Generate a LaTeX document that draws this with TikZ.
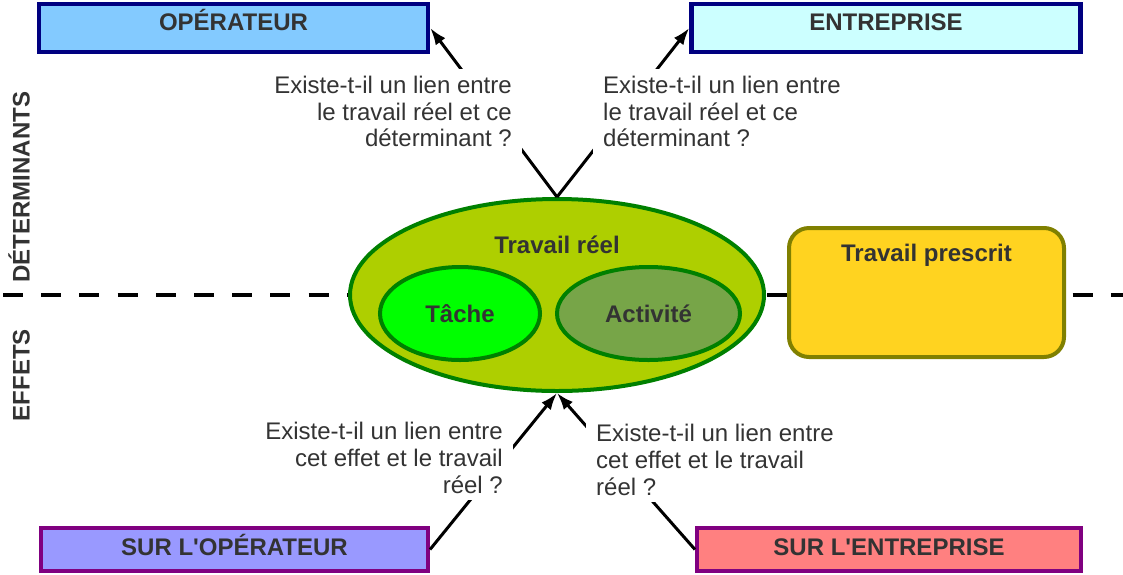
\documentclass[tikz,border=0pt]{standalone}
\usepackage{fontspec}
\setmainfont{Liberation Sans}[Ligatures=TeXOff]
\usetikzlibrary{arrows.meta,shapes.geometric}
\definecolor{txt}{HTML}{333333}
\definecolor{navyb}{HTML}{000080}
\definecolor{purpb}{HTML}{800080}
\definecolor{opfill}{HTML}{83CAFF}
\definecolor{entfill}{HTML}{CCFFFF}
\definecolor{sopfill}{HTML}{9999FF}
\definecolor{sentfill}{HTML}{FF8080}
\definecolor{dgreen}{HTML}{008000}
\definecolor{ygreen}{HTML}{AECF00}
\definecolor{tgreen}{HTML}{00FF00}
\definecolor{agreen}{HTML}{77A548}
\definecolor{gold}{HTML}{FFD320}
\definecolor{olive}{HTML}{808000}
\tikzset{
  bfont/.style={font=\fontsize{24}{28}\selectfont\bfseries, text=txt},
  topbox/.style={bfont, draw=navyb, line width=4.5pt, inner sep=0pt,
    minimum width=389pt, minimum height=48pt, text height=26.4pt, text depth=21.6pt},
  botbox/.style={bfont, draw=purpb, line width=4pt, inner sep=0pt,
    minimum height=43pt, text height=27.4pt, text depth=15.6pt},
  oval/.style={ellipse, draw=dgreen, line width=4pt, inner sep=0pt},
  ovaltext/.style={bfont, text height=17pt, text depth=0pt},
  prescbox/.style={bfont, draw=olive, fill=gold, line width=4pt, rounded corners=20pt,
    inner sep=0pt, minimum width=275pt, minimum height=129pt, text height=33.4pt, text depth=95.6pt},
  question/.style={font=\fontsize{24}{26.8}\selectfont, text=txt, fill=white,
    inner xsep=10pt, inner ysep=7pt},
  arr/.style={draw=black, line width=3pt, -{Latex[length=17pt,width=12pt]}},
  divider/.style={draw=black, line width=3.5pt, dash pattern=on 20pt off 18.2pt},
  sidelbl/.style={bfont, rotate=90, text height=17.2pt, text depth=0pt, inner sep=0pt}
}
\begin{document}
\begin{tikzpicture}[x=1pt,y=-1pt]
\useasboundingbox (0,0) rectangle (1123,574);
% divider
\coordinate (dl) at (3,295);
\coordinate (dr) at (1123,295);
\draw[divider] (dl) -- (dr);
% side labels
\node[sidelbl] (det) at (21,187) {DÉTERMINANTS};
\node[sidelbl] (eff) at (21,375) {EFFETS};
% central ellipses
\node[oval, fill=ygreen, minimum width=414pt, minimum height=192pt] (tr) at (557,295) {};
\node[bfont, anchor=base, inner sep=0pt] (trl) at (557,253) {Travail réel};
\node[oval, ovaltext, fill=tgreen, minimum width=160pt, minimum height=93pt] (tache) at (460,313.5) {Tâche};
\node[oval, ovaltext, fill=agreen, minimum width=183pt, minimum height=93pt] (act) at (648.5,313.5) {Activité};
% prescribed work
\node[prescbox] (presc) at (926.5,292.5) {Travail prescrit};
% boxes
\node[topbox, fill=opfill] (op) at (233.5,28) {OPÉRATEUR};
\node[topbox, fill=entfill] (ent) at (886,28) {ENTREPRISE};
\node[botbox, fill=sopfill, minimum width=387pt] (sop) at (234.5,549.5) {SUR L'OPÉRATEUR};
\node[botbox, fill=sentfill, minimum width=384pt] (sent) at (889,549.5) {SUR L'ENTREPRISE};
% arrows
\draw[arr] (tr.north) -- (op.east);
\draw[arr] (tr.north) -- (ent.west);
\draw[arr] (sop.east) -- (tr.south);
\draw[arr] (sent.west) -- (tr.south);
% questions
\node[question, align=right, anchor=north east] (q1) at (522,68.8) {Existe-t-il un lien entre\\le travail réel et ce\\déterminant ?};
\node[question, align=left, anchor=north west] (q2) at (593,68.8) {Existe-t-il un lien entre\\le travail réel et ce\\déterminant ?};
\node[question, align=right, anchor=north east] (q3) at (513,414.8) {Existe-t-il un lien entre\\cet effet et le travail\\réel ?};
\node[question, align=left, anchor=north west] (q4) at (586,416.8) {Existe-t-il un lien entre\\cet effet et le travail\\réel ?};
\end{tikzpicture}
\end{document}
